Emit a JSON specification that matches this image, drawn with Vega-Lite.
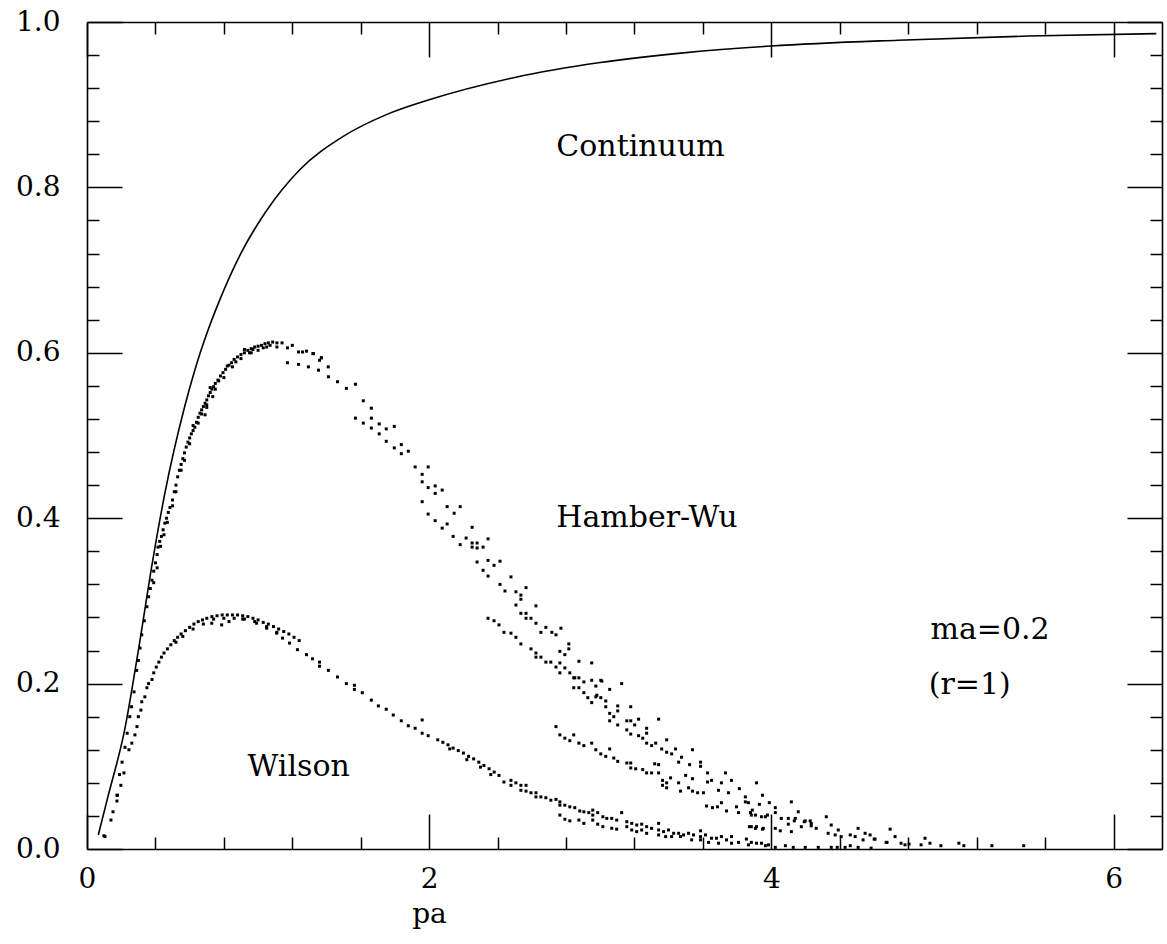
{
  "$schema": "https://vega.github.io/schema/vega-lite/v6.json",
  "width": 1075,
  "height": 827,
  "autosize": {"type": "none"},
  "padding": {"left": 87, "top": 22, "right": 5, "bottom": 95},
  "background": "white",
  "config": {"view": {"stroke": null}, "font": "DejaVu Serif"},
  "datasets": {
    "continuum": [
      {"pa":0.066,"value":0.017},{"pa":0.122,"value":0.063},{"pa":0.22,"value":0.144},{"pa":0.30,"value":0.24},{"pa":0.385,"value":0.35},{"pa":0.455,"value":0.43},{"pa":0.571,"value":0.535},{"pa":0.63,"value":0.579},{"pa":0.705,"value":0.626},{"pa":0.776,"value":0.664},{"pa":0.904,"value":0.722},{"pa":1.05,"value":0.772},{"pa":1.242,"value":0.821},{"pa":1.5,"value":0.862},{"pa":1.75,"value":0.888},{"pa":2.0,"value":0.906},{"pa":2.5,"value":0.933},{"pa":3.0,"value":0.951},{"pa":3.5,"value":0.963},{"pa":4.0,"value":0.971},{"pa":4.74,"value":0.978},{"pa":5.5,"value":0.983},{"pa":6.25,"value":0.986}
    ],
    "hamberwu": [
      {"pa":0.099,"value":0.016},{"pa":0.14,"value":0.035},{"pa":0.175,"value":0.058},{"pa":0.178,"value":0.065},{"pa":0.19,"value":0.09},{"pa":0.205,"value":0.105},{"pa":0.222,"value":0.123},{"pa":0.235,"value":0.14},{"pa":0.25,"value":0.16},{"pa":0.26,"value":0.172},{"pa":0.275,"value":0.19},{"pa":0.29,"value":0.216},{"pa":0.30,"value":0.228},{"pa":0.31,"value":0.243},{"pa":0.32,"value":0.259},{"pa":0.335,"value":0.276},{"pa":0.35,"value":0.293},{"pa":0.36,"value":0.305},{"pa":0.37,"value":0.315},{"pa":0.38,"value":0.325},{"pa":0.39,"value":0.336},{"pa":0.40,"value":0.346},{"pa":0.41,"value":0.356},{"pa":0.415,"value":0.365},{"pa":0.425,"value":0.372},{"pa":0.435,"value":0.378},{"pa":0.445,"value":0.386},{"pa":0.455,"value":0.394},{"pa":0.465,"value":0.40},{"pa":0.475,"value":0.407},{"pa":0.485,"value":0.413},{"pa":0.50,"value":0.422},{"pa":0.51,"value":0.432},{"pa":0.52,"value":0.44},{"pa":0.53,"value":0.45},{"pa":0.54,"value":0.458},{"pa":0.55,"value":0.465},{"pa":0.56,"value":0.472},{"pa":0.57,"value":0.479},{"pa":0.58,"value":0.486},{"pa":0.59,"value":0.492},{"pa":0.60,"value":0.497},{"pa":0.61,"value":0.502},{"pa":0.62,"value":0.506},{"pa":0.63,"value":0.51},{"pa":0.64,"value":0.516},{"pa":0.65,"value":0.522},{"pa":0.66,"value":0.527},{"pa":0.67,"value":0.531},{"pa":0.68,"value":0.535},{"pa":0.69,"value":0.539},{"pa":0.70,"value":0.543},{"pa":0.71,"value":0.548},{"pa":0.72,"value":0.552},{"pa":0.73,"value":0.556},{"pa":0.74,"value":0.559},{"pa":0.75,"value":0.563},{"pa":0.765,"value":0.567},{"pa":0.78,"value":0.572},{"pa":0.795,"value":0.576},{"pa":0.81,"value":0.58},{"pa":0.83,"value":0.585},{"pa":0.845,"value":0.588},{"pa":0.86,"value":0.592},{"pa":0.88,"value":0.595},{"pa":0.90,"value":0.598},{"pa":0.92,"value":0.60},{"pa":0.94,"value":0.603},{"pa":0.96,"value":0.605},{"pa":0.98,"value":0.607},{"pa":1.00,"value":0.608},{"pa":1.02,"value":0.609},{"pa":1.04,"value":0.611},{"pa":1.06,"value":0.612},{"pa":1.085,"value":0.613},{"pa":1.11,"value":0.612},
      {"pa":0.45,"value":0.38},{"pa":0.5,"value":0.415},{"pa":0.55,"value":0.458},{"pa":0.6,"value":0.49},{"pa":0.65,"value":0.515},{"pa":0.7,"value":0.537},{"pa":0.75,"value":0.556},{"pa":0.8,"value":0.57},{"pa":0.85,"value":0.583},{"pa":0.9,"value":0.593},{"pa":0.95,"value":0.6},{"pa":1.0,"value":0.603},{"pa":0.62,"value":0.512},{"pa":0.72,"value":0.558},{"pa":0.82,"value":0.584},{"pa":0.92,"value":0.604},{"pa":1.05,"value":0.607},{"pa":1.03,"value":0.606},{"pa":1.11,"value":0.607},{"pa":0.96,"value":0.6},{"pa":0.735,"value":0.547},{"pa":0.70,"value":0.534},{"pa":0.69,"value":0.525},{"pa":0.43,"value":0.366},{"pa":0.47,"value":0.395},{"pa":0.52,"value":0.432},{"pa":0.57,"value":0.47},{"pa":0.67,"value":0.526},{"pa":0.77,"value":0.566},{"pa":0.87,"value":0.589},{"pa":0.97,"value":0.604},{"pa":1.07,"value":0.609},{"pa":0.39,"value":0.322},{"pa":0.41,"value":0.34},
      {"pa":1.14,"value":0.612},{"pa":1.2,"value":0.609},{"pa":1.26,"value":0.601},{"pa":1.32,"value":0.599},{"pa":1.37,"value":0.594},{"pa":1.41,"value":0.583},{"pa":1.172,"value":0.588},{"pa":1.236,"value":0.586},{"pa":1.294,"value":0.583},{"pa":1.353,"value":0.579},{"pa":1.411,"value":0.571},{"pa":1.464,"value":0.565},{"pa":1.516,"value":0.557},{"pa":1.569,"value":0.562},{"pa":1.172,"value":0.606},{"pa":1.236,"value":0.601},{"pa":1.283,"value":0.602},{"pa":1.324,"value":0.599},{"pa":1.359,"value":0.591},{"pa":1.370,"value":0.594},
      {"pa":1.615,"value":0.542},{"pa":1.662,"value":0.533},{"pa":1.569,"value":0.521},{"pa":1.615,"value":0.515},{"pa":1.662,"value":0.521},{"pa":1.662,"value":0.509},{"pa":1.708,"value":0.514},{"pa":1.708,"value":0.502},{"pa":1.749,"value":0.508},{"pa":1.796,"value":0.511},{"pa":1.749,"value":0.493},{"pa":1.796,"value":0.485},{"pa":1.837,"value":0.489},{"pa":1.837,"value":0.478},{"pa":1.878,"value":0.481},{"pa":1.918,"value":0.462},{"pa":1.994,"value":0.462},{"pa":1.959,"value":0.453},{"pa":1.959,"value":0.444},{"pa":1.994,"value":0.437},{"pa":2.035,"value":0.439},{"pa":2.035,"value":0.430},{"pa":2.076,"value":0.434},{"pa":1.959,"value":0.420},{"pa":1.994,"value":0.405},{"pa":2.035,"value":0.397},{"pa":2.076,"value":0.388},{"pa":2.105,"value":0.414},{"pa":2.146,"value":0.406},{"pa":2.181,"value":0.414},{"pa":2.105,"value":0.393},{"pa":2.251,"value":0.389},
      {"pa":2.140,"value":0.378},{"pa":2.181,"value":0.368},{"pa":2.216,"value":0.376},{"pa":2.251,"value":0.370},{"pa":2.251,"value":0.365},{"pa":2.280,"value":0.370},{"pa":2.280,"value":0.364},{"pa":2.315,"value":0.365},{"pa":2.344,"value":0.375},{"pa":2.280,"value":0.347},{"pa":2.315,"value":0.337},{"pa":2.344,"value":0.349},{"pa":2.379,"value":0.343},{"pa":2.414,"value":0.348},{"pa":2.344,"value":0.330},{"pa":2.414,"value":0.320},{"pa":2.443,"value":0.312},{"pa":2.478,"value":0.329},{"pa":2.507,"value":0.311},{"pa":2.536,"value":0.307},{"pa":2.566,"value":0.316},{"pa":2.536,"value":0.302},{"pa":2.507,"value":0.295},{"pa":2.624,"value":0.294},{"pa":2.536,"value":0.285},{"pa":2.566,"value":0.285},{"pa":2.566,"value":0.279},{"pa":2.595,"value":0.279},{"pa":2.624,"value":0.273},{"pa":2.653,"value":0.262},{"pa":2.682,"value":0.268},{"pa":2.717,"value":0.262},{"pa":2.741,"value":0.259},{"pa":2.770,"value":0.267},
      {"pa":2.816,"value":0.248},{"pa":2.816,"value":0.242},{"pa":2.764,"value":0.239},{"pa":2.793,"value":0.235},{"pa":2.875,"value":0.227},{"pa":2.950,"value":0.225},{"pa":2.845,"value":0.207},{"pa":2.875,"value":0.207},{"pa":2.904,"value":0.202},{"pa":2.875,"value":0.195},{"pa":2.845,"value":0.195},{"pa":2.904,"value":0.189},{"pa":2.974,"value":0.197},{"pa":2.950,"value":0.204},{"pa":3.003,"value":0.204},{"pa":3.055,"value":0.193},{"pa":3.125,"value":0.200},{"pa":2.927,"value":0.183},{"pa":2.950,"value":0.177},{"pa":2.974,"value":0.184},{"pa":3.003,"value":0.183},{"pa":3.032,"value":0.179},{"pa":3.032,"value":0.172},{"pa":3.102,"value":0.173},{"pa":3.102,"value":0.167},{"pa":3.055,"value":0.164},{"pa":3.079,"value":0.160},{"pa":3.055,"value":0.155},{"pa":3.102,"value":0.150},{"pa":3.178,"value":0.172},{"pa":3.155,"value":0.155},{"pa":3.178,"value":0.155},{"pa":3.201,"value":0.150},{"pa":3.224,"value":0.157},{"pa":3.271,"value":0.146},{"pa":3.271,"value":0.140},{"pa":3.341,"value":0.157},{"pa":3.155,"value":0.144},{"pa":3.178,"value":0.139},{"pa":3.224,"value":0.137},{"pa":3.248,"value":0.134},{"pa":3.271,"value":0.128},{"pa":3.300,"value":0.125},{"pa":3.324,"value":0.128},{"pa":3.388,"value":0.132},{"pa":3.359,"value":0.121},{"pa":3.388,"value":0.117},{"pa":3.417,"value":0.115},{"pa":3.440,"value":0.121},{"pa":3.475,"value":0.111},{"pa":3.458,"value":0.105},{"pa":3.539,"value":0.120},{"pa":3.522,"value":0.102},{"pa":3.586,"value":0.105},{"pa":3.586,"value":0.100},{"pa":3.627,"value":0.092},{"pa":3.732,"value":0.092},{"pa":3.650,"value":0.083},{"pa":3.627,"value":0.081},{"pa":3.691,"value":0.071},{"pa":3.708,"value":0.080},{"pa":3.749,"value":0.068},{"pa":3.767,"value":0.083},{"pa":3.813,"value":0.073},{"pa":3.913,"value":0.080},{"pa":3.848,"value":0.063},{"pa":3.848,"value":0.057},{"pa":3.948,"value":0.065},{"pa":3.930,"value":0.054},{"pa":3.988,"value":0.056},{"pa":4.023,"value":0.050},{"pa":4.023,"value":0.044},{"pa":4.117,"value":0.057},{"pa":4.157,"value":0.045},{"pa":4.058,"value":0.037},{"pa":4.099,"value":0.037},{"pa":4.134,"value":0.034},{"pa":4.198,"value":0.034},{"pa":4.227,"value":0.034},{"pa":4.321,"value":0.039},{"pa":4.350,"value":0.029},{"pa":4.391,"value":0.023},{"pa":4.507,"value":0.025},{"pa":4.548,"value":0.019},{"pa":4.694,"value":0.024},{"pa":4.723,"value":0.015},{"pa":4.601,"value":0.012},{"pa":4.671,"value":0.008},{"pa":4.898,"value":0.013},{"pa":4.927,"value":0.007},{"pa":5.096,"value":0.007},{"pa":5.125,"value":0.004},{"pa":5.289,"value":0.004},{"pa":5.475,"value":0.004},{"pa":4.991,"value":0.004},{"pa":4.875,"value":0.005},{"pa":4.676,"value":0.008},{"pa":4.758,"value":0.007},{"pa":4.781,"value":0.005},{"pa":4.805,"value":0.006},{"pa":4.577,"value":0.017},{"pa":4.606,"value":0.012},{"pa":4.490,"value":0.015},{"pa":4.461,"value":0.017},{"pa":4.536,"value":0.011},{"pa":4.461,"value":0.004},{"pa":4.332,"value":0.019},{"pa":4.373,"value":0.017},{"pa":4.408,"value":0.015},{"pa":4.385,"value":0.002},{"pa":4.262,"value":0.025},{"pa":4.233,"value":0.031},{"pa":4.192,"value":0.033},{"pa":4.233,"value":0.028},{"pa":4.175,"value":0.027},{"pa":4.140,"value":0.037},{"pa":4.117,"value":0.021},{"pa":4.099,"value":0.030},{"pa":4.023,"value":0.025},{"pa":4.052,"value":0.022},{"pa":3.977,"value":0.041},{"pa":3.942,"value":0.039},{"pa":3.883,"value":0.041},{"pa":3.889,"value":0.047},{"pa":3.866,"value":0.056},{"pa":3.913,"value":0.027},{"pa":3.953,"value":0.025},{"pa":3.883,"value":0.027},
      {"pa":2.344,"value":0.279},{"pa":2.379,"value":0.276},{"pa":2.408,"value":0.271},{"pa":2.437,"value":0.262},{"pa":2.478,"value":0.261},{"pa":2.507,"value":0.256},{"pa":2.536,"value":0.248},{"pa":2.595,"value":0.242},{"pa":2.624,"value":0.237},{"pa":2.624,"value":0.232},{"pa":2.653,"value":0.232},{"pa":2.682,"value":0.226},{"pa":2.711,"value":0.226},{"pa":2.741,"value":0.220},{"pa":2.764,"value":0.225},{"pa":2.764,"value":0.213},{"pa":2.793,"value":0.219},{"pa":2.822,"value":0.213},{"pa":2.851,"value":0.207},{"pa":2.980,"value":0.186},{"pa":3.009,"value":0.203},
      {"pa":2.741,"value":0.148},{"pa":2.764,"value":0.138},{"pa":2.793,"value":0.134},{"pa":2.822,"value":0.131},{"pa":2.845,"value":0.138},{"pa":2.875,"value":0.128},{"pa":2.904,"value":0.125},{"pa":2.950,"value":0.128},{"pa":2.974,"value":0.120},{"pa":3.003,"value":0.115},{"pa":3.032,"value":0.112},{"pa":3.055,"value":0.121},{"pa":3.079,"value":0.110},{"pa":3.102,"value":0.106},{"pa":3.155,"value":0.104},{"pa":3.178,"value":0.104},{"pa":3.178,"value":0.098},{"pa":3.207,"value":0.097},{"pa":3.248,"value":0.096},{"pa":3.271,"value":0.092},{"pa":3.300,"value":0.092},{"pa":3.318,"value":0.103},{"pa":3.341,"value":0.102},{"pa":3.341,"value":0.092},{"pa":3.364,"value":0.083},{"pa":3.388,"value":0.080},{"pa":3.411,"value":0.086},{"pa":3.364,"value":0.077},{"pa":3.388,"value":0.074},{"pa":3.458,"value":0.080},{"pa":3.469,"value":0.070},{"pa":3.499,"value":0.089},{"pa":3.516,"value":0.074},{"pa":3.539,"value":0.085},{"pa":3.539,"value":0.070},{"pa":3.569,"value":0.068},{"pa":3.603,"value":0.068},{"pa":3.621,"value":0.052},{"pa":3.656,"value":0.050},{"pa":3.685,"value":0.051},{"pa":3.708,"value":0.056},{"pa":3.738,"value":0.046},{"pa":3.796,"value":0.051},{"pa":3.808,"value":0.044},{"pa":3.878,"value":0.044},{"pa":3.907,"value":0.041},{"pa":3.965,"value":0.039},{"pa":3.872,"value":0.027},{"pa":3.907,"value":0.025},{"pa":3.948,"value":0.024}
    ],
    "wilson": [
      {"pa":0.105,"value":0.015},{"pa":0.152,"value":0.045},{"pa":0.175,"value":0.065},{"pa":0.198,"value":0.077},{"pa":0.216,"value":0.092},{"pa":0.245,"value":0.12},{"pa":0.262,"value":0.128},{"pa":0.28,"value":0.138},{"pa":0.292,"value":0.148},{"pa":0.30,"value":0.16},{"pa":0.315,"value":0.168},{"pa":0.32,"value":0.178},{"pa":0.338,"value":0.184},{"pa":0.35,"value":0.195},{"pa":0.36,"value":0.200},{"pa":0.38,"value":0.205},{"pa":0.39,"value":0.213},{"pa":0.405,"value":0.22},{"pa":0.42,"value":0.226},{"pa":0.435,"value":0.232},{"pa":0.45,"value":0.237},{"pa":0.47,"value":0.242},{"pa":0.49,"value":0.247},{"pa":0.51,"value":0.252},{"pa":0.53,"value":0.256},{"pa":0.55,"value":0.26},{"pa":0.575,"value":0.264},{"pa":0.60,"value":0.268},{"pa":0.625,"value":0.272},{"pa":0.65,"value":0.275},{"pa":0.675,"value":0.277},{"pa":0.70,"value":0.279},{"pa":0.73,"value":0.281},{"pa":0.76,"value":0.282},{"pa":0.79,"value":0.283},{"pa":0.82,"value":0.283},{"pa":0.85,"value":0.283},{"pa":0.88,"value":0.283},{"pa":0.91,"value":0.282},{"pa":0.94,"value":0.281},{"pa":0.97,"value":0.279},{"pa":1.0,"value":0.277},{"pa":1.03,"value":0.274},{"pa":1.06,"value":0.272},{"pa":1.09,"value":0.269},{"pa":1.12,"value":0.266},{"pa":1.15,"value":0.263},{"pa":1.18,"value":0.26},{"pa":1.21,"value":0.256},{"pa":1.24,"value":0.252},
      {"pa":0.62,"value":0.266},{"pa":0.68,"value":0.272},{"pa":0.74,"value":0.278},{"pa":0.8,"value":0.279},{"pa":0.86,"value":0.279},{"pa":0.92,"value":0.278},{"pa":0.98,"value":0.275},{"pa":1.05,"value":0.269},{"pa":1.11,"value":0.262},{"pa":0.729,"value":0.273},{"pa":0.787,"value":0.271},{"pa":0.83,"value":0.275},{"pa":0.56,"value":0.257},{"pa":0.52,"value":0.25},
      {"pa":0.910,"value":0.278},{"pa":0.991,"value":0.273},{"pa":1.050,"value":0.267},{"pa":1.108,"value":0.261},{"pa":1.143,"value":0.255},{"pa":1.184,"value":0.249},{"pa":1.230,"value":0.241},{"pa":1.283,"value":0.235},{"pa":1.318,"value":0.230},{"pa":1.359,"value":0.226},{"pa":1.359,"value":0.221},{"pa":1.411,"value":0.216},{"pa":1.464,"value":0.208},{"pa":1.516,"value":0.200},{"pa":1.563,"value":0.198},{"pa":1.563,"value":0.193},{"pa":1.609,"value":0.189},{"pa":1.662,"value":0.180},{"pa":1.703,"value":0.173},{"pa":1.749,"value":0.169},{"pa":1.790,"value":0.162},{"pa":1.837,"value":0.155},{"pa":1.878,"value":0.149},{"pa":1.918,"value":0.146},{"pa":1.959,"value":0.156},{"pa":1.959,"value":0.140},{"pa":1.994,"value":0.137},
      {"pa":2.05,"value":0.132},{"pa":2.08,"value":0.129},{"pa":2.11,"value":0.126},{"pa":2.14,"value":0.122},{"pa":2.17,"value":0.119},{"pa":2.2,"value":0.116},{"pa":2.23,"value":0.112},{"pa":2.26,"value":0.109},{"pa":2.29,"value":0.105},{"pa":2.32,"value":0.101},{"pa":2.35,"value":0.097},{"pa":2.38,"value":0.093},{"pa":2.12,"value":0.121},{"pa":2.22,"value":0.108},{"pa":2.3,"value":0.099},{"pa":2.36,"value":0.09},
      {"pa":2.408,"value":0.089},{"pa":2.437,"value":0.081},{"pa":2.478,"value":0.083},{"pa":2.478,"value":0.077},{"pa":2.507,"value":0.080},{"pa":2.536,"value":0.077},{"pa":2.536,"value":0.071},{"pa":2.566,"value":0.077},{"pa":2.566,"value":0.070},{"pa":2.595,"value":0.068},{"pa":2.624,"value":0.068},{"pa":2.624,"value":0.063},{"pa":2.653,"value":0.063},{"pa":2.682,"value":0.062},{"pa":2.711,"value":0.059},{"pa":2.741,"value":0.060},{"pa":2.764,"value":0.057},{"pa":2.764,"value":0.053},{"pa":2.793,"value":0.053},{"pa":2.822,"value":0.051},{"pa":2.851,"value":0.050},{"pa":2.880,"value":0.046},{"pa":2.904,"value":0.045},{"pa":2.933,"value":0.044},{"pa":2.956,"value":0.047},{"pa":2.956,"value":0.041},{"pa":2.985,"value":0.044},{"pa":3.015,"value":0.039},{"pa":3.038,"value":0.037},{"pa":3.067,"value":0.037},{"pa":3.096,"value":0.035},{"pa":3.125,"value":0.044},{"pa":3.155,"value":0.033},{"pa":3.184,"value":0.031},{"pa":3.213,"value":0.029},{"pa":3.242,"value":0.030},{"pa":3.271,"value":0.027},{"pa":3.300,"value":0.025},{"pa":3.341,"value":0.031},{"pa":3.341,"value":0.023},{"pa":3.370,"value":0.021},{"pa":3.399,"value":0.023},{"pa":3.429,"value":0.019},{"pa":3.458,"value":0.019},{"pa":3.487,"value":0.017},{"pa":3.516,"value":0.019},{"pa":3.545,"value":0.017},{"pa":3.586,"value":0.022},{"pa":3.586,"value":0.015},{"pa":3.615,"value":0.017},{"pa":3.650,"value":0.013},{"pa":3.679,"value":0.013},{"pa":3.708,"value":0.015},{"pa":3.738,"value":0.011},{"pa":3.767,"value":0.015},{"pa":3.808,"value":0.008},{"pa":3.854,"value":0.012},{"pa":3.883,"value":0.008},{"pa":3.913,"value":0.007},{"pa":3.942,"value":0.007},{"pa":3.983,"value":0.005},{"pa":4.023,"value":0.002},{"pa":4.082,"value":0.004},{"pa":4.128,"value":0.002},{"pa":4.198,"value":0.002},{"pa":4.274,"value":0.002},{"pa":4.350,"value":0.002},{"pa":4.431,"value":0.002},{"pa":4.507,"value":0.002},{"pa":4.583,"value":0.001},
      {"pa":2.764,"value":0.041},{"pa":2.793,"value":0.036},{"pa":2.822,"value":0.034},{"pa":2.875,"value":0.035},{"pa":2.904,"value":0.031},{"pa":2.956,"value":0.035},{"pa":2.985,"value":0.030},{"pa":3.015,"value":0.027},{"pa":3.067,"value":0.025},{"pa":3.096,"value":0.024},{"pa":3.155,"value":0.027},{"pa":3.184,"value":0.023},{"pa":3.213,"value":0.021},{"pa":3.242,"value":0.023},{"pa":3.271,"value":0.019},{"pa":3.341,"value":0.017},{"pa":3.382,"value":0.015},{"pa":3.417,"value":0.015},{"pa":3.469,"value":0.015},{"pa":3.534,"value":0.011},{"pa":3.586,"value":0.011},{"pa":3.633,"value":0.008},{"pa":3.691,"value":0.007},{"pa":3.767,"value":0.007},{"pa":3.866,"value":0.005},{"pa":3.965,"value":0.004}
    ],
    "labels": [
      {"pa":2.743,"value":0.849,"label":"Continuum"},
      {"pa":2.743,"value":0.400,"label":"Hamber-Wu"},
      {"pa":0.938,"value":0.099,"label":"Wilson"},
      {"pa":4.93,"value":0.265,"label":"ma=0.2"},
      {"pa":4.92,"value":0.198,"label":"(r=1)"}
    ]
  },
  "layer": [
    {
      "data": {"name": "continuum"},
      "mark": {"type": "line", "color": "black", "strokeWidth": 1.6, "interpolate": "monotone"},
      "encoding": {
        "x": {"field": "pa", "type": "quantitative", "scale": {"domain": [0, 6.2832], "nice": false, "zero": false},
          "axis": {"orient": "bottom", "values": [0,0.4,0.8,1.2,1.6,2,2.4,2.8,3.2,3.6,4,4.4,4.8,5.2,5.6,6], "labels": false, "title": null, "grid": false, "ticks": true,
            "tickSize": {"condition": {"test": "abs(datum.value/2 - round(datum.value/2)) < 0.000001", "value": -35}, "value": -12},
            "tickColor": "black", "tickWidth": 1.5, "domain": true, "domainColor": "black", "domainWidth": 1.6}},
        "y": {"field": "value", "type": "quantitative", "scale": {"domain": [0, 1], "nice": false, "zero": false},
          "axis": {"orient": "left", "values": [0,0.04,0.08,0.12,0.16,0.2,0.24,0.28,0.32,0.36,0.4,0.44,0.48,0.52,0.56,0.6,0.64,0.68,0.72,0.76,0.8,0.84,0.88,0.92,0.96,1], "labels": false, "title": null, "grid": false, "ticks": true,
            "tickSize": {"condition": {"test": "abs(datum.value*5 - round(datum.value*5)) < 0.000001", "value": -35}, "value": -12},
            "tickColor": "black", "tickWidth": 1.5, "domain": true, "domainColor": "black", "domainWidth": 1.6}}
      }
    },
    {
      "data": {"name": "hamberwu"},
      "mark": {"type": "square", "size": 9, "color": "black", "opacity": 1},
      "encoding": {
        "x": {"field": "pa", "type": "quantitative", "scale": {"domain": [0, 6.2832], "nice": false, "zero": false},
          "axis": {"orient": "top", "values": [0,0.4,0.8,1.2,1.6,2,2.4,2.8,3.2,3.6,4,4.4,4.8,5.2,5.6,6], "labels": false, "title": null, "grid": false, "ticks": true,
            "tickSize": {"condition": {"test": "abs(datum.value/2 - round(datum.value/2)) < 0.000001", "value": -35}, "value": -12},
            "tickColor": "black", "tickWidth": 1.5, "domain": true, "domainColor": "black", "domainWidth": 1.6}},
        "y": {"field": "value", "type": "quantitative", "scale": {"domain": [0, 1], "nice": false, "zero": false},
          "axis": {"orient": "right", "values": [0,0.04,0.08,0.12,0.16,0.2,0.24,0.28,0.32,0.36,0.4,0.44,0.48,0.52,0.56,0.6,0.64,0.68,0.72,0.76,0.8,0.84,0.88,0.92,0.96,1], "labels": false, "title": null, "grid": false, "ticks": true,
            "tickSize": {"condition": {"test": "abs(datum.value*5 - round(datum.value*5)) < 0.000001", "value": -35}, "value": -12},
            "tickColor": "black", "tickWidth": 1.5, "domain": true, "domainColor": "black", "domainWidth": 1.6}}
      }
    },
    {
      "data": {"name": "wilson"},
      "mark": {"type": "square", "size": 9, "color": "black", "opacity": 1},
      "encoding": {
        "x": {"field": "pa", "type": "quantitative", "scale": {"domain": [0, 6.2832], "nice": false, "zero": false},
          "axis": {"orient": "bottom", "values": [0, 2, 4, 6], "format": "d", "ticks": false, "domain": false, "grid": false,
            "labelPadding": 16, "labelFontSize": 28, "labelFont": "DejaVu Serif", "labelColor": "black", "labelFlush": false, "labelOverlap": false,
            "title": "pa", "titleFont": "DejaVu Serif", "titleFontSize": 28, "titleFontWeight": "normal", "titleColor": "black",
            "titleX": 342, "titleY": 73, "titleAlign": "center", "titleBaseline": "alphabetic"}},
        "y": {"field": "value", "type": "quantitative", "scale": {"domain": [0, 1], "nice": false, "zero": false},
          "axis": {"orient": "left", "values": [0, 0.2, 0.4, 0.6, 0.8, 1], "format": ".1f", "ticks": false, "domain": false, "grid": false,
            "labelPadding": 27, "labelFontSize": 28, "labelFont": "DejaVu Serif", "labelColor": "black", "labelFlush": false, "labelOverlap": false, "title": null}}
      }
    },
    {
      "data": {"name": "labels"},
      "mark": {"type": "text", "align": "left", "baseline": "middle", "font": "DejaVu Serif", "fontSize": 30, "color": "black"},
      "encoding": {
        "x": {"field": "pa", "type": "quantitative", "axis": null},
        "y": {"field": "value", "type": "quantitative", "axis": null},
        "text": {"field": "label"}
      }
    }
  ],
  "resolve": {"axis": {"x": "independent", "y": "independent"}}
}
